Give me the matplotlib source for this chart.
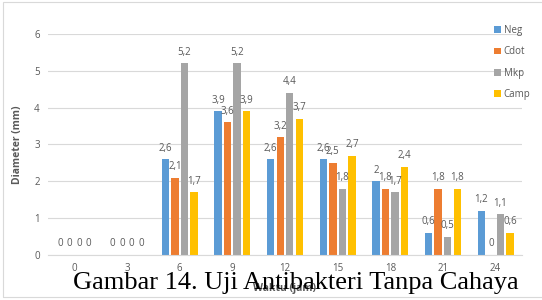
import matplotlib
matplotlib.use('Agg')
import matplotlib.pyplot as plt
import numpy as np

categories = ['0', '3', '6', '9', '12', '15', '18', '21', '24']
series_names = ['Neg', 'Cdot', 'Mkp', 'Camp']
neg = [0, 0, 2.6, 3.9, 2.6, 2.6, 2, 0.6, 1.2]
cdot = [0, 0, 2.1, 3.6, 3.2, 2.5, 1.8, 1.8, 0]
mkp = [0, 0, 5.2, 5.2, 4.4, 1.8, 1.7, 0.5, 1.1]
camp = [0, 0, 1.7, 3.9, 3.7, 2.7, 2.4, 1.8, 0.6]
colors = ['#5B9BD5', '#ED7D31', '#A5A5A5', '#FFC000']

plt.rcParams['font.family'] = ['Open Sans', 'DejaVu Sans']
grey = '#595959'

fig = plt.figure(figsize=(5.42, 3.0), dpi=100)
ax = fig.add_axes([0.0886, 0.15, 0.8744, 0.737])

x = np.arange(len(categories))
pitch = 0.182
width = 0.14
for i, (vals, name) in enumerate(zip([neg, cdot, mkp, camp], series_names)):
    pos = x + (i - 1.5) * pitch
    ax.bar(pos, vals, width, color=colors[i], label=name, zorder=2)
    for p, v in zip(pos, vals):
        txt = f'{v:g}'.replace('.', ',')
        ax.text(p, v + 0.15, txt, ha='center', va='bottom', fontsize=7,
                color=grey, zorder=3)

ax.set_xlim(-0.5, len(categories) - 0.5)
ax.set_ylim(0, 6)
ax.set_xticks(x)
ax.set_xticklabels(categories)
ax.set_yticks(range(7))
ax.tick_params(axis='both', length=0, labelsize=7, labelcolor=grey, pad=6)
ax.grid(axis='y', color='#D9D9D9', linewidth=0.8, zorder=0)
for s in ['top', 'right', 'left']:
    ax.spines[s].set_visible(False)
ax.spines['bottom'].set_color('#D9D9D9')
ax.set_ylabel('Diameter (mm)', fontsize=7.5, fontweight='bold', color=grey, labelpad=8)
ax.set_xlabel('Waktu (jam)', fontsize=7.5, fontweight='bold', color=grey, labelpad=6)

fig.legend(loc='upper left', bbox_to_anchor=(0.895, 0.945), frameon=False,
           fontsize=7, labelcolor=grey, handlelength=0.7, handleheight=0.7,
           handletextpad=0.3, labelspacing=1.05)

# chart border
fig.patches.append(plt.Rectangle((0.006, 0.01), 1.1, 0.985, transform=fig.transFigure,
                                 fill=False, edgecolor='#D9D9D9', linewidth=0.8))

fig.text(0.545, 0.055, 'Gambar 14. Uji Antibakteri Tanpa Cahaya', ha='center',
         va='center', fontsize=19, family='Liberation Serif', color='black', zorder=10)

fig.savefig('out.png', dpi=100)
